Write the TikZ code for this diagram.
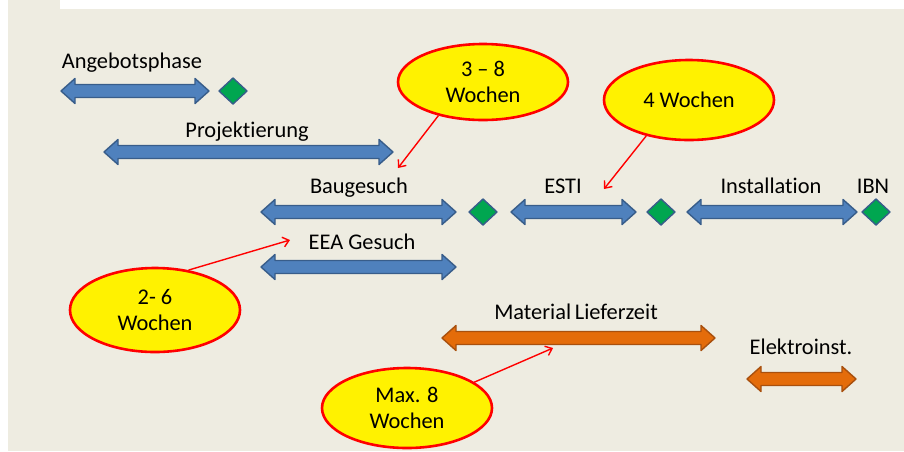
\documentclass[tikz,border=0pt]{standalone}
\usepackage{fontspec}
\setmainfont{Carlito}[Ligatures={NoCommon}]
\usetikzlibrary{shapes.geometric,arrows.meta}
\definecolor{bgc}{HTML}{EEECE1}
\definecolor{bluef}{HTML}{4F81BD}
\definecolor{blued}{HTML}{385D8A}
\definecolor{orangef}{HTML}{E46C0A}
\definecolor{oranged}{HTML}{A8500E}
\definecolor{greenf}{HTML}{00A650}
\tikzset{
  bluebar/.style={fill=bluef,draw=blued,line width=1.4pt,line join=round},
  orangebar/.style={fill=orangef,draw=oranged,line width=1.4pt,line join=round},
  gem/.style={fill=greenf,draw=blued,line width=1.4pt,line join=round},
  lbl/.style={inner sep=0pt,anchor=base,font=\fontsize{22.4}{26}\selectfont},
  callout/.style={ellipse,fill=yellow,draw=red,line width=2.6pt,inner sep=0pt,
    minimum width=170pt,minimum height=80pt,align=center,font=\fontsize{22.4}{26}\selectfont},
  redarr/.style={draw=red,line width=1.4pt,-{Straight Barb[length=6pt,width=10pt]}}
}
\newcommand\dbarr[4]{\path[#4] (#1,#3) -- (#1+14,#3-12.5) -- (#1+14,#3-6.5) -- (#2-14,#3-6.5) -- (#2-14,#3-12.5) -- (#2,#3) -- (#2-14,#3+12.5) -- (#2-14,#3+6.5) -- (#1+14,#3+6.5) -- (#1+14,#3+12.5) -- cycle;}
\newcommand\gemat[2]{\path[gem] (#1-14,#2) -- (#1,#2-13) -- (#1+14,#2) -- (#1,#2+13) -- cycle;}
\begin{document}
\begin{tikzpicture}[x=1pt,y=-1pt]
\useasboundingbox (0,0) rectangle (904,451);
\fill[white] (0,0) rectangle (904,451);
\fill[bgc] (8,0) rectangle (904,451);
\fill[white] (60,0) rectangle (904,9);
% bars
\dbarr{61}{209}{91}{bluebar}
\gemat{233}{91}
\dbarr{104}{393}{152}{bluebar}
\dbarr{261}{456}{212}{bluebar}
\gemat{483}{212}
\dbarr{511}{636}{212}{bluebar}
\gemat{661}{212}
\dbarr{687}{857}{212}{bluebar}
\gemat{876}{212}
\dbarr{261}{456}{267}{bluebar}
\dbarr{442}{715}{338}{orangebar}
\dbarr{747}{856}{379}{orangebar}
% labels
\node[lbl] (angebot) at (132,68) {Angebotsphase};
\node[lbl] (projekt) at (247,137) {Projektierung};
\node[lbl] (bauges) at (359,193) {Baugesuch};
\node[lbl] (esti) at (563,193) {ESTI};
\node[lbl] (install) at (771,193) {Installation};
\node[lbl] (ibn) at (873,193) {IBN};
\node[lbl] (eea) at (362,249) {EEA Gesuch};
\node[lbl] (material) at (576,319) {Material\,Lieferzeit};
\node[lbl] (elektro) at (801,354) {Elektroinst.};
% callouts
\node[callout,minimum height=76pt] (e38) at (483,82) {3 -- 8\\Wochen};
\node[callout] (e4) at (689,100) {4 Wochen};
\node[callout,minimum height=84pt] (e26) at (155,310) {2- 6\\Wochen};
\node[callout] (e8) at (407,408) {Max. 8\\Wochen};
\coordinate (t38) at (398,168);
\coordinate (t4) at (604,189);
\coordinate (t26) at (290,240);
\coordinate (t8) at (553,348);
\draw[redarr] (e38.217) -- (t38);
\draw[redarr] (e4.220) -- (t4);
\draw[redarr] (e26.50) -- (t26);
\draw[redarr] (e8.21) -- (t8);
\end{tikzpicture}
\end{document}
